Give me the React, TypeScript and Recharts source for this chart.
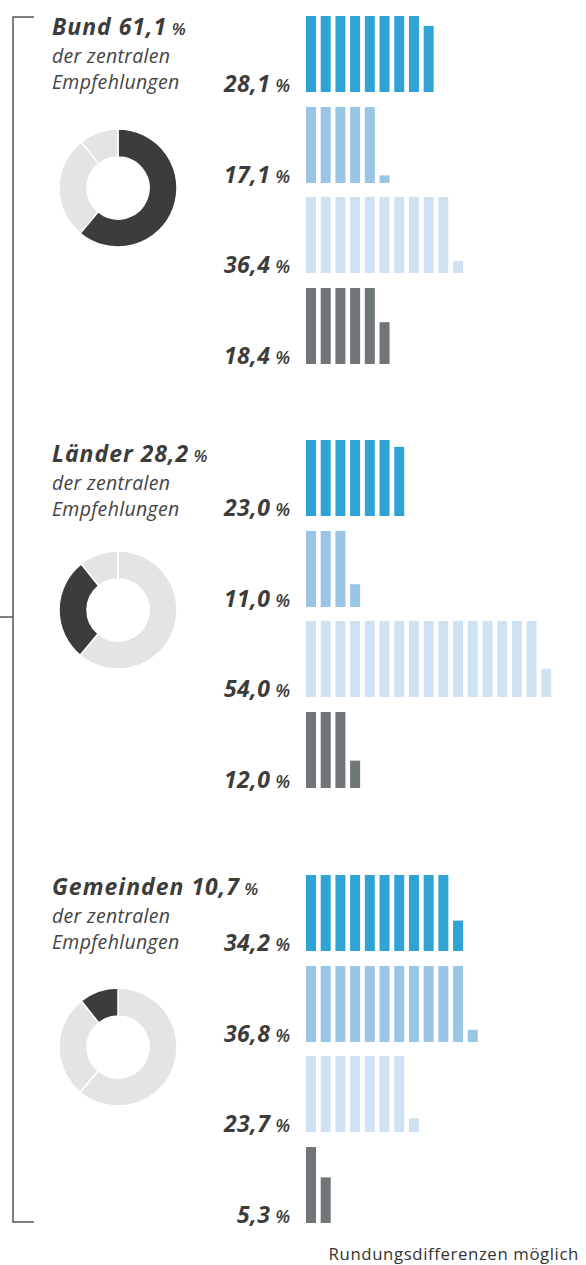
import { BarChart, Bar, XAxis, YAxis, PieChart, Pie, Cell } from "recharts";

// share of central recommendations per level
const levels = ["Bund", "Länder", "Gemeinden"];
const shares = [61.1, 28.2, 10.7];
const shareLabels = ["61,1", "28,2", "10,7"];

// percentage labels per row
const bundLabels = ["28,1", "17,1", "36,4", "18,4"];
const laenderLabels = ["23,0", "11,0", "54,0", "12,0"];
const gemeindenLabels = ["34,2", "36,8", "23,7", "5,3"];

// pictogram bar units as drawn (1 = one full bar)
const bundUnits = [8.87, 5.1, 10.16, 5.55];
const laenderUnits = [6.91, 3.3, 16.37, 3.36];
const gemeindenUnits = [10.4, 11.16, 7.18, 1.6];

const rowColors = ["#2ea3d4", "#9ac6e6", "#cfe2f4", "#707578"];
const DARK = "#3c3c3b";
const LIGHT = "#e3e4e6";
const FONT = "'Open Sans', sans-serif";

const SLOTS = 17;
const sectionTops = [16, 440, 875];
const titleYs = [35, 462, 895];
const donutYs = [188, 610, 1047];
const ROW_PITCH = 90.67;
const ROW_H = 76;

const labelSets = [bundLabels, laenderLabels, gemeindenLabels];
const unitSets = [bundUnits, laenderUnits, gemeindenUnits];

function toSlots(u: number) {
  const full = Math.floor(u);
  return Array.from({ length: SLOTS }, (_, i) => ({
    slot: i,
    v: i < full ? 1 : i === full ? u - full : 0,
  }));
}

function Row({ units, color }: { units: number; color: string }) {
  return (
    <BarChart width={250} height={ROW_H} data={toSlots(units)} margin={{ top: 0, right: 0, bottom: 0, left: 0 }}>
      <XAxis dataKey="slot" hide />
      <YAxis hide domain={[0, 1]} />
      <Bar dataKey="v" fill={color} barSize={10} isAnimationActive={false} />
    </BarChart>
  );
}

function Donut({ highlight }: { highlight: number }) {
  const data = levels.map((l, i) => ({ name: l, value: shares[i] }));
  return (
    <PieChart width={130} height={130} margin={{ top: 0, right: 0, bottom: 0, left: 0 }}>
      <Pie
        data={data}
        dataKey="value"
        cx={65}
        cy={65}
        innerRadius={31}
        outerRadius={59}
        startAngle={90}
        endAngle={-270}
        stroke="#fff"
        strokeWidth={1.5}
        isAnimationActive={false}
      >
        {data.map((d, i) => (
          <Cell key={d.name} fill={i === highlight ? DARK : LIGHT} />
        ))}
      </Pie>
    </PieChart>
  );
}

export default function App() {
  return (
    <div style={{ position: "absolute", left: 0, top: 0, width: 586, height: 1265, background: "#fff", fontFamily: FONT }}>
      <svg width={586} height={1265} style={{ position: "absolute", left: 0, top: 0 }}>
        <path d="M34 17 H13 V1222 H34 M0 617 H13" fill="none" stroke="#555" strokeWidth={1.5} />
        {levels.map((lvl, s) => (
          <g key={lvl} fill={DARK} fontStyle="italic">
            <text x={52} y={titleYs[s]} fontWeight={700} fontSize={23} letterSpacing={1}>
              {lvl} {shareLabels[s]}
              <tspan fontSize={17} fontWeight={600} letterSpacing={0}> %</tspan>
            </text>
            <text x={52} y={titleYs[s] + 28} fontSize={19.5} letterSpacing={0.3} fill="#444">der zentralen</text>
            <text x={52} y={titleYs[s] + 54} fontSize={19.5} letterSpacing={0.3} fill="#444">Empfehlungen</text>
            {labelSets[s].map((lab, r) => (
              <text
                key={r}
                x={290}
                y={sectionTops[s] + r * ROW_PITCH + ROW_H}
                textAnchor="end"
                fontWeight={700}
                fontSize={23}
                letterSpacing={0.5}
              >
                {lab}
                <tspan fontSize={18} fontWeight={600} letterSpacing={0}> %</tspan>
              </text>
            ))}
          </g>
        ))}
        <text x={579} y={1260} textAnchor="end" fontSize={16.8} letterSpacing={0.6} fill="#333">
          Rundungsdifferenzen möglich
        </text>
      </svg>
      {levels.map((lvl, s) => (
        <div key={lvl}>
          <div style={{ position: "absolute", left: 52.5, top: donutYs[s] - 65 }}>
            <Donut highlight={s} />
          </div>
          {unitSets[s].map((u, r) => (
            <div
              key={r}
              style={{ position: "absolute", left: 303.6, top: sectionTops[s] + r * ROW_PITCH }}
            >
              <Row units={u} color={rowColors[r]} />
            </div>
          ))}
        </div>
      ))}
    </div>
  );
}
